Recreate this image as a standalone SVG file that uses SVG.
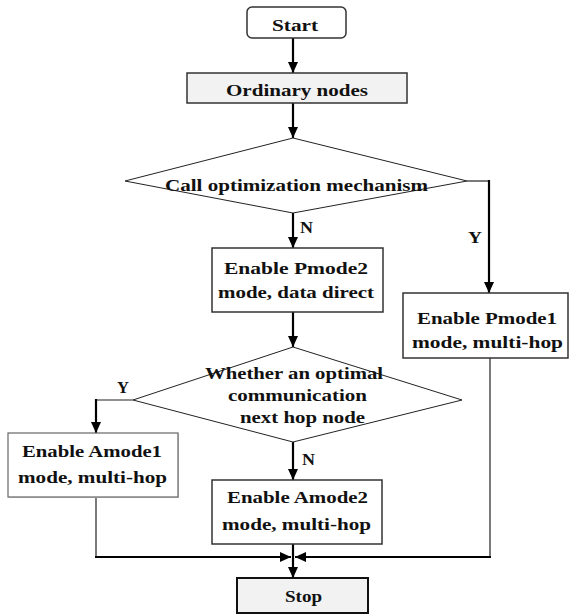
<svg xmlns="http://www.w3.org/2000/svg" width="570" height="614" viewBox="0 0 570 614">
<style>
.bx{fill:#fff;stroke:#333;stroke-width:1.5}
.gr{fill:#f2f2f2}
.dm{fill:#fff;stroke:#222;stroke-width:1}
.t{font-family:"Liberation Serif","Times New Roman",serif;font-weight:bold;font-size:17px;fill:#111}
.th{fill:none;stroke:#000;stroke-width:2.2}
.tn{fill:none;stroke:#222;stroke-width:1.2}
</style>
<defs>
<marker id="ah" markerUnits="userSpaceOnUse" markerWidth="12" markerHeight="10" refX="11" refY="5" orient="auto">
<path d="M0,0 L11,5 L0,10 z" fill="#000"/>
</marker>
</defs>
<g id="connectors">
<path class="th" d="M293,38 V73" marker-end="url(#ah)"/>
<path class="th" d="M293,103 V138" marker-end="url(#ah)"/>
<path class="th" d="M293,213 V248" marker-end="url(#ah)"/>
<path class="tn" d="M467,181 H489"/>
<path class="th" d="M489,180 V293" marker-end="url(#ah)"/>
<path class="th" d="M293,312 V347" marker-end="url(#ah)"/>
<path class="th" d="M293,442 V480" marker-end="url(#ah)"/>
<path class="tn" d="M133,400 H96"/>
<path class="th" d="M96,399 V433" marker-end="url(#ah)"/>
<path class="tn" d="M96,497 V557"/>
<path class="th" d="M95,557 H291" marker-end="url(#ah)"/>
<path class="tn" d="M490,358 V557"/>
<path class="th" d="M491,557 H295" marker-end="url(#ah)"/>
<path class="th" d="M293,544 V578" marker-end="url(#ah)"/>
<text class="t" x="300" y="233" textLength="13" lengthAdjust="spacingAndGlyphs">N</text>
<text class="t" x="302" y="465" textLength="13" lengthAdjust="spacingAndGlyphs">N</text>
<text class="t" x="468" y="243" textLength="14" lengthAdjust="spacingAndGlyphs">Y</text>
<text class="t" x="117" y="393" textLength="12" lengthAdjust="spacingAndGlyphs">Y</text>
</g>
<g id="start">
<rect class="bx" x="247" y="7" width="99" height="31" rx="5"/>
<text class="t" x="272" y="31" textLength="46" lengthAdjust="spacingAndGlyphs">Start</text>
</g>
<g id="ordinary">
<rect class="bx gr" x="187" y="73" width="220" height="30"/>
<text class="t" x="226" y="96" textLength="142" lengthAdjust="spacingAndGlyphs">Ordinary nodes</text>
</g>
<g id="decision1">
<polygon class="dm" points="125,181 293,138 467,181 293,213"/>
<text class="t" x="165" y="191" textLength="263" lengthAdjust="spacingAndGlyphs">Call optimization mechanism</text>
</g>
<g id="pmode2">
<rect class="bx" x="212" y="248" width="171" height="64"/>
<text class="t" x="224" y="274" textLength="144" lengthAdjust="spacingAndGlyphs">Enable Pmode2</text>
<text class="t" x="218" y="298" textLength="156" lengthAdjust="spacingAndGlyphs">mode, data direct</text>
</g>
<g id="pmode1">
<rect class="bx" x="403" y="293" width="165" height="65"/>
<text class="t" x="417" y="324" textLength="140" lengthAdjust="spacingAndGlyphs">Enable Pmode1</text>
<text class="t" x="412" y="348" textLength="151" lengthAdjust="spacingAndGlyphs">mode, multi-hop</text>
</g>
<g id="decision2">
<polygon class="dm" points="133,400 293,347 462,400 293,442"/>
<text class="t" x="205" y="379" textLength="178" lengthAdjust="spacingAndGlyphs">Whether an optimal</text>
<text class="t" x="228" y="401" textLength="139" lengthAdjust="spacingAndGlyphs">communication</text>
<text class="t" x="240" y="423" textLength="125" lengthAdjust="spacingAndGlyphs">next hop node</text>
</g>
<g id="amode1">
<rect x="9" y="434" width="170" height="64" fill="#ccc"/>
<rect x="8" y="433" width="170" height="64" fill="#fff" stroke="#666" stroke-width="1.2"/>
<text class="t" x="22" y="457" textLength="140" lengthAdjust="spacingAndGlyphs">Enable Amode1</text>
<text class="t" x="18" y="483" textLength="149" lengthAdjust="spacingAndGlyphs">mode, multi-hop</text>
</g>
<g id="amode2">
<rect class="bx" x="212" y="480" width="170" height="64"/>
<text class="t" x="227" y="503" textLength="141" lengthAdjust="spacingAndGlyphs">Enable Amode2</text>
<text class="t" x="222" y="530" textLength="149" lengthAdjust="spacingAndGlyphs">mode, multi-hop</text>
</g>
<g id="stop">
<rect class="gr" x="237" y="578" width="131" height="35" stroke="#111" stroke-width="2"/>
<text class="t" x="285" y="602" textLength="37" lengthAdjust="spacingAndGlyphs">Stop</text>
</g>
</svg>
